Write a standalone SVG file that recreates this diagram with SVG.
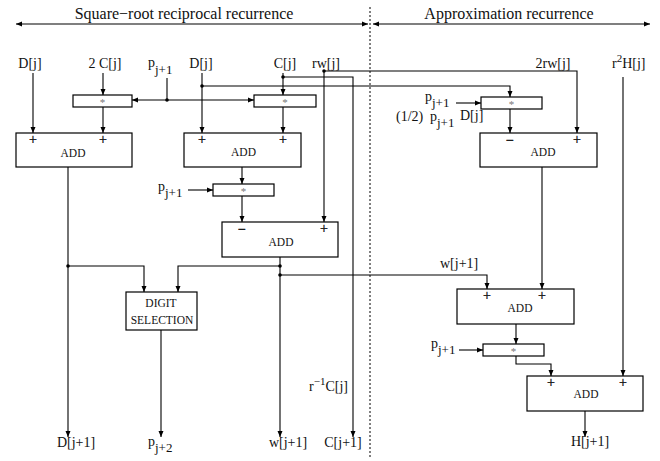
<svg xmlns="http://www.w3.org/2000/svg" width="660" height="461" viewBox="0 0 660 461">
<style>
.ln{stroke:#000;stroke-width:1.1;fill:none}
.ar{marker-end:url(#ah)}
.box{fill:#fff;stroke:#000;stroke-width:1.2}
.t{font-family:"Liberation Serif","Times New Roman",serif;font-size:14px;fill:#111}
.tt{font-family:"Liberation Serif","Times New Roman",serif;font-size:16px;fill:#111}
.add{font-family:"Liberation Serif","Times New Roman",serif;font-size:11.5px;fill:#111;text-anchor:middle}
.st{font-family:"Liberation Serif","Times New Roman",serif;font-size:11px;fill:#777;text-anchor:middle}
.sg{font-family:"Liberation Serif","Times New Roman",serif;font-size:14px;fill:#111;stroke:#111;stroke-width:0.35;text-anchor:middle}
.m{text-anchor:middle}
.dot{fill:#000}
</style>
<defs>
<marker id="ah" markerUnits="userSpaceOnUse" markerWidth="7" markerHeight="6" refX="6" refY="3" orient="auto-start-reverse"><path d="M0,0.5 L6,3 L0,5.5 z" fill="#000"/></marker>
</defs>

<g id="titles">
<text class="tt m" x="184" y="19">Square−root reciprocal recurrence</text>
<text class="tt m" x="509" y="19">Approximation recurrence</text>
<path class="ln" d="M16,24 H368" marker-start="url(#ah)" marker-end="url(#ah)"/>
<path class="ln" d="M373,24 H650" marker-start="url(#ah)" marker-end="url(#ah)"/>
<line x1="370" y1="7" x2="370" y2="458" stroke="#000" stroke-width="1" stroke-dasharray="2,2"/>
</g>

<g id="connectors">
<path class="ln ar" d="M33,73 V133"/>
<path class="ln ar" d="M103,73 V95"/>
<path class="ln" d="M167,78 V100"/>
<path class="ln ar" d="M167,100 H132"/>
<path class="ln ar" d="M167,100 H254"/>
<path class="ln ar" d="M103,107 V133"/>
<path class="ln ar" d="M202,73 V133"/>
<path class="ln ar" d="M202,86 H510 V97"/>
<path class="ln ar" d="M283,73 V95"/>
<path class="ln ar" d="M283,77 H353 V437"/>
<path class="ln ar" d="M283,107 V133"/>
<path class="ln ar" d="M324,71 V222"/>
<path class="ln ar" d="M324,71 H577 V133"/>
<path class="ln ar" d="M242,167 V184"/>
<path class="ln ar" d="M188,190 H213"/>
<path class="ln ar" d="M242,196 V222"/>
<path class="ln ar" d="M68,167 V437"/>
<path class="ln ar" d="M68,266 H144 V292"/>
<path class="ln ar" d="M280,257 V437"/>
<path class="ln ar" d="M280,266 H178 V292"/>
<path class="ln ar" d="M280,275 H487 V289"/>
<path class="ln ar" d="M161,330 V437"/>
<path class="ln ar" d="M456,103 H481"/>
<path class="ln ar" d="M510,109 V133"/>
<path class="ln ar" d="M542,167 V289"/>
<path class="ln ar" d="M516,324 V344"/>
<path class="ln ar" d="M459,350 H483"/>
<path class="ln ar" d="M516,356 V364 H551 V376"/>
<path class="ln ar" d="M623,77 V376"/>
<path class="ln ar" d="M585,411 V437"/>
<circle class="dot" cx="167" cy="100" r="1.8"/>
<circle class="dot" cx="202" cy="86" r="1.8"/>
<circle class="dot" cx="283" cy="77" r="1.8"/>
<circle class="dot" cx="324" cy="71" r="1.8"/>
<circle class="dot" cx="68" cy="266" r="1.8"/>
<circle class="dot" cx="280" cy="266" r="1.8"/>
<circle class="dot" cx="280" cy="275" r="1.8"/>
</g>

<g id="labels">
<text class="t m" x="30" y="68">D[j]</text>
<text class="t m" x="105" y="68">2 C[j]</text>
<text class="t" x="148" y="67">p<tspan font-size="13" dy="7">j+1</tspan></text>
<text class="t m" x="201" y="68">D[j]</text>
<text class="t m" x="285" y="68">C[j]</text>
<text class="t m" x="326" y="68">rw[j]</text>
<text class="t m" x="553" y="68">2rw[j]</text>
<text class="t" x="612" y="68">r<tspan font-size="11" dy="-6">2</tspan><tspan dy="6">H[j]</tspan></text>
<text class="t" x="158" y="191">p<tspan font-size="13" dy="6">j+1</tspan></text>
<text class="t" x="425" y="101">p<tspan font-size="13" dy="6">j+1</tspan></text>
<text class="t" x="396" y="121">(1/2)</text>
<text class="t" x="430" y="121">p<tspan font-size="13" dy="6">j+1</tspan></text>
<text class="t" x="460" y="120">D[j]</text>
<text class="t" x="440" y="268">w[j+1]</text>
<text class="t" x="431" y="348">p<tspan font-size="13" dy="6">j+1</tspan></text>
<text class="t" x="309" y="391">r<tspan font-size="11" dy="-6">−1</tspan><tspan dy="6">C[j]</tspan></text>
<text class="t m" x="76" y="447">D[j+1]</text>
<text class="t" x="148" y="446">p<tspan font-size="13" dy="6">j+2</tspan></text>
<text class="t m" x="288" y="447">w[j+1]</text>
<text class="t m" x="343" y="447">C[j+1]</text>
<text class="t m" x="590" y="446">H[j+1]</text>
</g>

<g id="mul1"><rect class="box" x="73" y="95" width="59" height="12"/><text class="st" x="102.5" y="106">*</text></g>
<g id="mul2"><rect class="box" x="254" y="95" width="62" height="12"/><text class="st" x="285" y="106">*</text></g>
<g id="mul3"><rect class="box" x="481" y="97" width="61" height="12"/><text class="st" x="511.5" y="108">*</text></g>
<g id="mul4"><rect class="box" x="213" y="184" width="61" height="12"/><text class="st" x="243.5" y="195">*</text></g>
<g id="mul5"><rect class="box" x="483" y="344" width="61" height="12"/><text class="st" x="513.5" y="355">*</text></g>

<g id="addL1"><rect class="box" x="16" y="133" width="116" height="34"/>
<text class="sg" x="33" y="144">+</text><text class="sg" x="103" y="144">+</text><text class="add" x="73" y="157">ADD</text></g>
<g id="addL2"><rect class="box" x="184" y="133" width="117" height="34"/>
<text class="sg" x="202" y="144">+</text><text class="sg" x="283" y="144">+</text><text class="add" x="243.5" y="156">ADD</text></g>
<g id="addL3"><rect class="box" x="222" y="222" width="116" height="35"/>
<text class="sg" x="242" y="234">−</text><text class="sg" x="324" y="233">+</text><text class="add" x="281" y="246">ADD</text></g>
<g id="digitsel"><rect class="box" x="126" y="292" width="71" height="38"/>
<text class="add" x="161" y="307">DIGIT</text><text class="add" x="162" y="324">SELECTION</text></g>
<g id="addR1"><rect class="box" x="480" y="133" width="117" height="34"/>
<text class="sg" x="510" y="145">−</text><text class="sg" x="577" y="144">+</text><text class="add" x="543" y="156">ADD</text></g>
<g id="addR2"><rect class="box" x="457" y="289" width="117" height="35"/>
<text class="sg" x="487" y="300">+</text><text class="sg" x="542" y="300">+</text><text class="add" x="520" y="312">ADD</text></g>
<g id="addR3"><rect class="box" x="527" y="376" width="116" height="35"/>
<text class="sg" x="551" y="387">+</text><text class="sg" x="623" y="387">+</text><text class="add" x="586" y="398">ADD</text></g>
</svg>
